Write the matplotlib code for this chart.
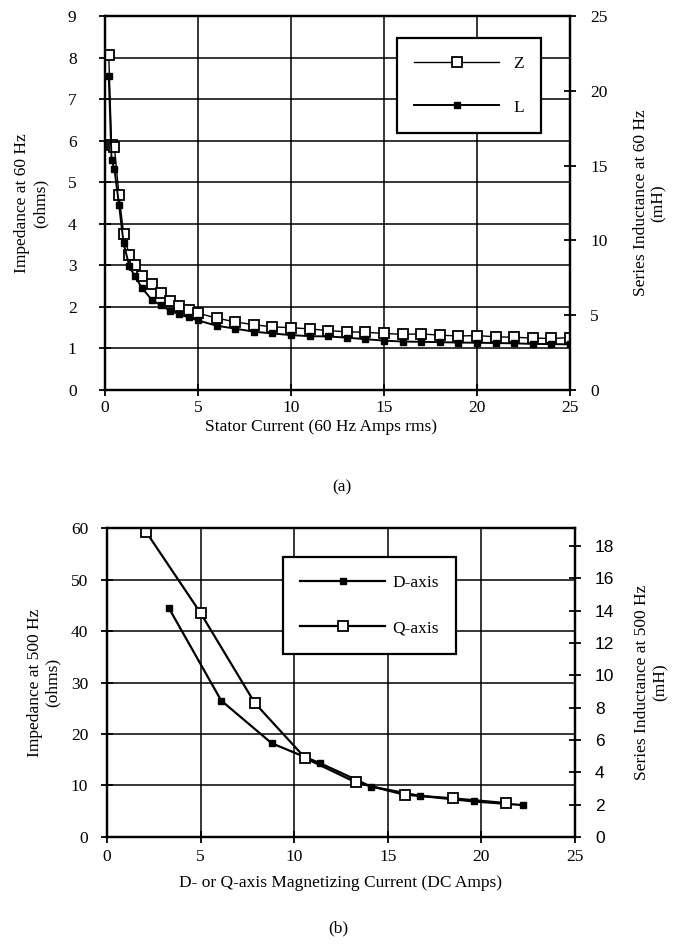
import numpy as np
import matplotlib
matplotlib.use('Agg')
import matplotlib.pyplot as plt

plt.rcParams['font.family'] = ['Liberation Serif', 'DejaVu Serif']
plt.rcParams['font.size'] = 12.5

# (a) 60 Hz stator test
stator_current = [0.2, 0.35, 0.5, 0.75, 1.0, 1.3, 1.6, 2.0, 2.5, 3.0, 3.5, 4.0,
                  4.5, 5.0, 6.0, 7.0, 8.0, 9.0, 10.0, 11.0, 12.0, 13.0, 14.0,
                  15.0, 16.0, 17.0, 18.0, 19.0, 20.0, 21.0, 22.0, 23.0, 24.0, 25.0]
impedance_60 = [8.05, 5.9, 5.85, 4.7, 3.75, 3.25, 3.0, 2.75, 2.55, 2.33, 2.15,
                2.02, 1.93, 1.85, 1.73, 1.64, 1.57, 1.52, 1.5, 1.47, 1.43, 1.4,
                1.39, 1.36, 1.34, 1.35, 1.32, 1.3, 1.31, 1.28, 1.27, 1.25, 1.24, 1.26]
inductance_60 = [21.0, 15.4, 14.8, 12.4, 9.8, 8.3, 7.6, 6.8, 6.05, 5.65, 5.3,
                 5.05, 4.85, 4.65, 4.3, 4.1, 3.9, 3.78, 3.67, 3.6, 3.58, 3.5,
                 3.4, 3.3, 3.24, 3.22, 3.2, 3.17, 3.16, 3.14, 3.12, 3.08, 3.07, 3.05]

# (b) 500 Hz magnetizing test
d_current = [3.3, 6.1, 8.8, 11.4, 14.1, 16.7, 19.6, 22.2]
d_impedance = [44.5, 26.5, 18.2, 14.3, 9.8, 8.0, 6.9, 6.2]
q_current = [2.1, 5.0, 7.9, 10.6, 13.3, 15.9, 18.5, 21.3]
q_impedance = [59.2, 43.5, 26.0, 15.3, 10.6, 8.2, 7.5, 6.6]

fig = plt.figure(figsize=(6.75, 9.48), dpi=100)

def style(ax):
    for s in ax.spines.values():
        s.set_linewidth(1.6)
    ax.tick_params(direction='inout', length=9, width=1.3, colors='black')
    ax.grid(True, color='black', linewidth=1.1)

# ---- top chart ----
ax = fig.add_axes([0.1556, 0.5886, 0.6889, 0.3945])
ax.plot(stator_current, impedance_60, '-', color='black', lw=1.0,
        marker='s', ms=6.5, mfc='white', mec='black', mew=1.3, label='Z')
ax.set_xlim(0, 25)
ax.set_ylim(0, 9)
ax.set_xticks(np.arange(0, 26, 5))
ax.set_yticks(np.arange(0, 10, 1))
style(ax)
ax.tick_params(axis='x', pad=3)
ax.tick_params(axis='y', pad=16)
ax.set_xlabel('Stator Current (60 Hz Amps rms)', labelpad=2)
ax.xaxis.label.set_x(0.465)
ax.set_ylabel('Impedance at 60 Hz\n(ohms)', labelpad=14)

ax2 = ax.twinx()
ax2.plot(stator_current, inductance_60, '-', color='black', lw=1.4,
         marker='s', ms=3.8, mfc='black', mec='black', label='L')
ax2.set_ylim(0, 25)
ax2.set_yticks(np.arange(0, 26, 5))
for s in ax2.spines.values():
    s.set_linewidth(1.6)
ax2.tick_params(direction='inout', length=9, width=1.3, pad=10)
ax2.set_ylabel('Series Inductance at 60 Hz\n(mH)', labelpad=18)

h1, l1 = ax.get_legend_handles_labels()
h2, l2 = ax2.get_legend_handles_labels()
leg = ax2.legend(h1 + h2, l1 + l2, loc='upper left', bbox_to_anchor=(0.628, 0.941),
                 borderaxespad=0, fancybox=False, framealpha=1, edgecolor='black',
                 handlelength=4.9, handletextpad=0.8, labelspacing=1.6,
                 borderpad=1.0, markerfirst=True)
leg.get_frame().set_linewidth(1.6)

fig.text(0.506, 1 - 487 / 948, '(a)', ha='center', va='center')

# ---- bottom chart ----
bx = fig.add_axes([0.1585, 0.1171, 0.6933, 0.3259])
bx.plot(d_current, d_impedance, '-', color='black', lw=1.6,
        marker='s', ms=4.5, mfc='black', mec='black', label='D-axis')
bx.plot(q_current, q_impedance, '-', color='black', lw=1.6,
        marker='s', ms=7.5, mfc='white', mec='black', mew=1.3, label='Q-axis')
bx.set_xlim(0, 25)
bx.set_ylim(0, 60)
bx.set_xticks(np.arange(0, 26, 5))
bx.set_yticks(np.arange(0, 61, 10))
style(bx)
bx.tick_params(axis='x', pad=4)
bx.tick_params(axis='y', pad=9)
bx.set_xlabel('D- or Q-axis Magnetizing Current (DC Amps)', labelpad=7)
bx.set_ylabel('Impedance at 500 Hz\n(ohms)', labelpad=7)

bx2 = bx.twinx()
bx2.set_ylim(0, 60 / (2 * np.pi * 500) * 1000)
bx2.set_yticks(np.arange(0, 19, 2))
for s in bx2.spines.values():
    s.set_linewidth(1.6)
bx2.tick_params(direction='inout', length=9, width=1.3, pad=10)
for t in bx2.get_yticklabels():
    t.set_family(['Liberation Sans', 'DejaVu Sans'])
bx2.set_ylabel('Series Inductance at 500 Hz\n(mH)', labelpad=14)

leg2 = bx.legend(loc='upper left', bbox_to_anchor=(0.376, 0.906), borderaxespad=0,
                 fancybox=False, framealpha=1, edgecolor='black',
                 handlelength=4.9, handletextpad=0.4, labelspacing=1.7,
                 borderpad=1.0)
leg2.get_frame().set_linewidth(1.6)

fig.text(0.501, 1 - 928 / 948, '(b)', ha='center', va='center')

fig.savefig('out.png', dpi=100)
